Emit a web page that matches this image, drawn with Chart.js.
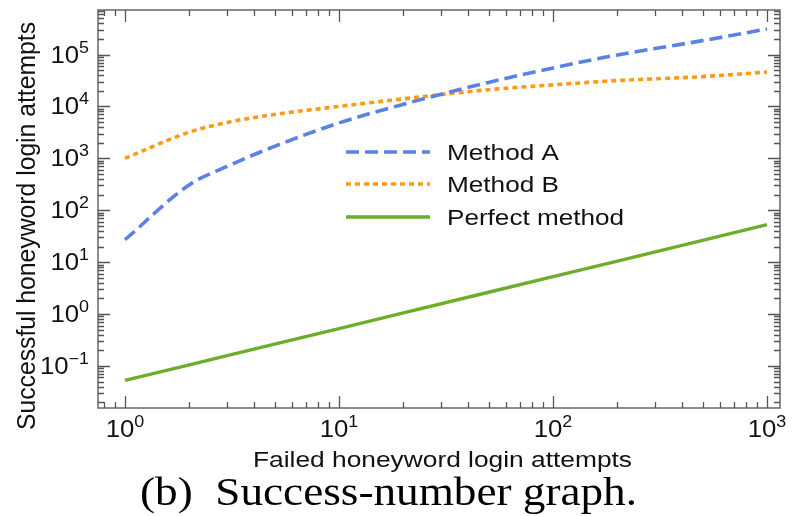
<!DOCTYPE html>
<html>
<head>
<meta charset="utf-8">
<script src="https://cdn.jsdelivr.net/npm/chart.js@4/dist/chart.umd.min.js"></script>
<style>
  html, body { margin: 0; padding: 0; background: #ffffff; }
  #wrap { width: 792px; height: 516px; position: relative; }
</style>
</head>
<body>
<div id="wrap"><canvas id="c" width="792" height="516"></canvas></div>
<script>
// ---- data ----
const failedAttempts = [1, 2, 3, 5, 10, 20, 50, 100, 200, 500, 1000];
const methodA = [27, 310, 700, 1700, 4800, 11000, 29000, 55000, 98000, 185000, 310000];
const methodB = [1000, 3200, 4900, 7000, 10000, 14000, 21000, 26000, 31500, 37500, 46000];
const perfectMethod = [0.053, 0.105, 0.158, 0.263, 0.526, 1.05, 2.63, 5.26, 10.5, 26.3, 52.6];
const seriesNames = ['Method A', 'Method B', 'Perfect method'];
const xTickExponents = [0, 1, 2, 3];
const yTickExponents = [-1, 0, 1, 2, 3, 4, 5];
const xTitle = 'Failed honeyword login attempts';
const yTitle = 'Successful honeyword login attempts';
const caption = '(b)  Success-number graph.';

const toPoints = (ys) => failedAttempts.map((x, i) => ({ x: x, y: ys[i] }));

const SANS = '"Liberation Sans", Arial, Helvetica, sans-serif';
const SERIF = '"Liberation Serif", "Times New Roman", serif';

function drawStretched(ctx, text, x, y, font, targetWidth) {
  ctx.font = font;
  const w = ctx.measureText(text).width;
  const sx = targetWidth ? targetWidth / w : 1;
  ctx.save();
  ctx.translate(x, y);
  ctx.scale(sx, 1);
  ctx.textAlign = 'left';
  ctx.fillText(text, 0, 0);
  ctx.restore();
  return w * sx;
}

function powerLabel(ctx, exp, px, baseline, mode, sx) {
  const base = '10';
  const sup = exp < 0 ? '\u2212' + Math.abs(exp) : String(exp);
  ctx.font = '23px ' + SANS;
  const wb = ctx.measureText(base).width * sx;
  ctx.font = '16px ' + SANS;
  const ws = ctx.measureText(sup).width * sx;
  const total = wb + ws;
  let left;
  if (mode === 'center') left = px - total / 2;
  else left = px - total;
  ctx.save();
  ctx.textAlign = 'left';
  ctx.textBaseline = 'alphabetic';
  ctx.translate(left, baseline);
  ctx.scale(sx, 1);
  ctx.font = '23px ' + SANS;
  ctx.fillText(base, 0, 0);
  ctx.font = '16px ' + SANS;
  ctx.fillText(sup, wb / sx, -10);
  ctx.restore();
}

const decorations = {
  id: 'decorations',
  afterDraw(chart) {
    const { ctx, chartArea: a, scales } = chart;
    const xs = scales.x, ys = scales.y;
    ctx.save();
    // frame
    ctx.strokeStyle = '#707070';
    ctx.lineWidth = 1.6;
    ctx.strokeRect(a.left, a.top, a.right - a.left, a.bottom - a.top);

    // inward ticks on all four sides
    ctx.strokeStyle = '#555555';
    ctx.lineWidth = 1.3;
    ctx.beginPath();
    for (let e = -3; e <= 6; e++) {
      for (let m = 1; m < 10; m++) {
        const v = m * Math.pow(10, e);
        const len = m === 1 ? 12 : 6;
        if (v >= ys.min && v <= ys.max) {
          const py = Math.round(ys.getPixelForValue(v)) + 0.5;
          ctx.moveTo(a.left, py); ctx.lineTo(a.left + len, py);
          ctx.moveTo(a.right, py); ctx.lineTo(a.right - len, py);
        }
        if (v >= xs.min && v <= xs.max) {
          const px = Math.round(xs.getPixelForValue(v)) + 0.5;
          ctx.moveTo(px, a.bottom); ctx.lineTo(px, a.bottom - len);
          ctx.moveTo(px, a.top); ctx.lineTo(px, a.top + len);
        }
      }
    }
    ctx.stroke();

    ctx.fillStyle = '#111111';
    // tick labels
    xTickExponents.forEach(e => {
      const px = xs.getPixelForValue(Math.pow(10, e));
      powerLabel(ctx, e, px, 437, 'center', 1.12);
    });
    yTickExponents.forEach(e => {
      const py = ys.getPixelForValue(Math.pow(10, e));
      powerLabel(ctx, e, a.left - 9, py + 8, 'right', 1.12);
    });

    // axis titles
    ctx.textBaseline = 'alphabetic';
    drawStretched(ctx, xTitle, 253, 467, '22px ' + SANS, 379);
    ctx.save();
    ctx.translate(35, 226);
    ctx.rotate(-Math.PI / 2);
    ctx.font = '25px ' + SANS;
    const wy = ctx.measureText(yTitle).width;
    ctx.scale(408 / wy, 1);
    ctx.textAlign = 'center';
    ctx.fillText(yTitle, 0, 0);
    ctx.restore();

    // legend
    const legendY = [152, 184, 217];
    const legendW = [112, 112, 177];
    chart.data.datasets.forEach((ds, i) => {
      const ly = legendY[i];
      ctx.save();
      ctx.strokeStyle = ds.borderColor;
      ctx.lineWidth = ds.borderWidth;
      ctx.setLineDash(ds.borderDash || []);
      ctx.beginPath();
      ctx.moveTo(346, ly);
      ctx.lineTo(430, ly);
      ctx.stroke();
      ctx.restore();
      ctx.fillStyle = '#111111';
      drawStretched(ctx, ds.label, 447, ly + 8, '22px ' + SANS, legendW[i]);
    });

    // caption
    ctx.fillStyle = '#000000';
    drawStretched(ctx, caption, 140, 505, '40px ' + SERIF, 497);
    ctx.restore();
  }
};

new Chart(document.getElementById('c'), {
  type: 'line',
  data: {
    datasets: [
      {
        label: seriesNames[0],
        data: toPoints(methodA),
        borderColor: '#5a82e6',
        borderWidth: 3.6,
        borderDash: [13, 6],
        cubicInterpolationMode: 'monotone',
        pointRadius: 0,
        fill: false
      },
      {
        label: seriesNames[1],
        data: toPoints(methodB),
        borderColor: '#ff9a17',
        borderWidth: 3.6,
        borderDash: [5, 4],
        cubicInterpolationMode: 'monotone',
        pointRadius: 0,
        fill: false
      },
      {
        label: seriesNames[2],
        data: toPoints(perfectMethod),
        borderColor: '#6cae2c',
        borderWidth: 3.4,
        pointRadius: 0,
        fill: false
      }
    ]
  },
  options: {
    responsive: false,
    animation: false,
    devicePixelRatio: 1,
    layout: { padding: { left: 98, right: 12, top: 10, bottom: 108 } },
    plugins: { legend: { display: false }, tooltip: { enabled: false }, title: { display: false } },
    scales: {
      x: { type: 'logarithmic', display: false, bounds: 'data', min: 0.748, max: 1150 },
      y: { type: 'logarithmic', display: false, bounds: 'data', min: 0.0155, max: 720000 }
    }
  },
  plugins: [decorations]
});
</script>
</body>
</html>
